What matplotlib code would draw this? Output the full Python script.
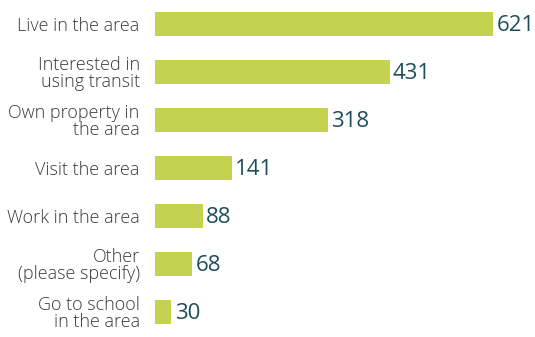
import matplotlib.pyplot as plt

categories = ['Live in the area', 'Interested in\nusing transit', 'Own property in\nthe area',
              'Visit the area', 'Work in the area', 'Other\n(please specify)', 'Go to school\nin the area']
values = [621, 431, 318, 141, 88, 68, 30]

bar_color = '#c4d250'
num_color = '#1e4d5a'
label_color = '#3a3a3a'

fig = plt.figure(figsize=(5.35, 3.37), dpi=100)
ax = fig.add_axes([155 / 535, 0, 380 / 535, 1])

pos = range(len(values))
ax.barh(pos, values, height=0.5, color=bar_color)
ax.set_ylim(6.52, -0.5)
ax.set_xlim(0, 698)

for i, v in enumerate(values):
    ax.text(v + 6, i + 0.03, str(v), va='center', ha='left', fontsize=16,
            color=num_color, family='Open Sans')

ax.set_yticks(list(pos))
ax.set_yticklabels(categories, fontsize=13, color=label_color, family='Open Sans',
                   weight='light', linespacing=0.9, multialignment='right')
ax.tick_params(axis='y', length=0, pad=11)
ax.set_xticks([])
for s in ax.spines.values():
    s.set_visible(False)

fig.savefig('out.png', dpi=100)
